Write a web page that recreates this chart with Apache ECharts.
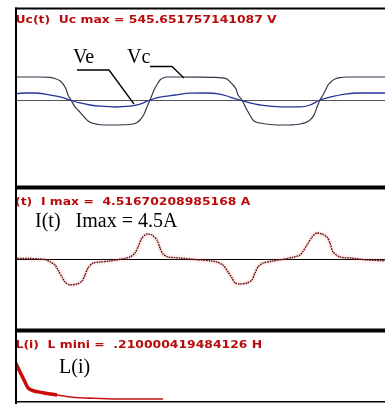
<!DOCTYPE html>
<html>
<head>
<meta charset="utf-8">
<script src="https://cdn.jsdelivr.net/npm/echarts@6/dist/echarts.min.js"></script>
<style>
  html, body { margin: 0; padding: 0; background: #fff; }
  #chart { width: 385px; height: 404px; }
</style>
</head>
<body>
<div id="chart"></div>
<script>
// Capacitor voltage Uc(t) (ms, V)
const vcTime = [0.0, 2.5, 3.5, 4.0, 4.5, 4.8, 5.1, 5.3, 5.6, 6.0, 6.3, 6.7, 7.0, 7.3, 7.7, 8.5, 9.5,
  11.0, 11.8, 12.2, 12.5, 12.8, 13.0, 13.1, 13.3, 13.5, 13.7, 14.0, 14.3, 14.5, 14.8, 15.2,
  16.5, 18.5, 20.0, 20.7, 21.2, 21.8, 22.1, 22.3, 22.7, 23.2, 23.8, 24.2, 24.5, 25.3, 26.2,
  27.5, 28.5, 29.0, 29.5, 29.9, 30.2, 30.5, 30.8, 31.1, 31.3, 31.6, 32.0, 32.5, 33.2, 37.0];
const vcVolts = [502, 502, 495, 470, 420, 350, 240, 110, 0, -150, -218, -320, -393, -460, -502, -540, -545.651757141087,
  -540, -524, -490, -437, -350, -262, -200, -100, 0, 110, 262, 370, 437, 480, 502,
  502, 500, 495, 485, 458, 327, 240, 109, 0, -218, -437, -490, -502, -530, -545.651757141087,
  -545, -524, -500, -437, -330, -153, 0, 109, 240, 327, 400, 458, 490, 502, 502];

// Supply voltage Ve(t) (ms, V)
const veTime = [0.0, 1.0, 2.0, 3.0, 4.0, 4.7, 5.5, 6.5, 7.5, 8.5, 10.0, 11.5, 12.5, 13.5, 14.5, 16.0,
  17.5, 19.0, 20.5, 21.5, 22.5, 23.5, 24.5, 26.5, 28.5, 29.5, 30.5, 31.5, 33.0, 34.5, 37.0];
const veVolts = [130, 153, 153, 130, 90, 55, 0, -65, -109, -135, -153, -135, -90, 0, 65, 109,
  150, 153, 130, 65, 0, -65, -109, -150, -150, -109, 0, 65, 130, 153, 153];

// Current I(t) (ms, A)
const iTime = [0.0, 1.5, 3.0, 3.5, 4.0, 4.3, 4.7, 5.0, 5.5, 6.2, 6.7, 7.0, 7.3, 7.8, 8.5, 9.5, 10.5,
  11.5, 12.0, 12.3, 12.7, 13.2, 13.7, 14.2, 14.5, 14.8, 15.3, 16.5, 18.5, 19.5, 20.2, 20.8,
  21.3, 21.7, 22.0, 22.5, 23.2, 23.7, 24.0, 24.3, 24.8, 25.8, 26.8, 27.8, 28.5, 29.2, 29.7,
  30.2, 30.7, 31.2, 31.5, 31.8, 32.5, 33.8, 35.2, 37.0];
const iAmps = [0.12, 0.09, -0.09, -0.47, -1.04, -1.91, -3.13, -4.0, -4.5, -4.35, -3.83, -2.78, -1.57, -0.70, -0.52, -0.35, -0.05,
  0.35, 1.04, 2.09, 3.65, 4.35, 4.17, 3.30, 1.91, 0.87, 0.35, 0.17, -0.17, -0.30, -0.52, -1.04,
  -2.26, -3.30, -4.17, -4.35, -4.17, -3.65, -2.43, -1.39, -0.70, -0.35, -0.05, 0.30, 0.70, 2.43, 3.83,
  4.51670208985168, 4.35, 3.83, 2.78, 1.22, 0.35, 0.12, -0.17, -0.30];

// Inductance L(i) (A, H): steep start and flat tail
const lHeadCurrent = [0.0, 0.15, 0.30, 0.40, 0.55, 0.85, 1.28];
const lHeadHenry = [0.787, 0.633, 0.478, 0.381, 0.339, 0.308, 0.273];
const lTailCurrent = [1.28, 1.76, 2.37, 3.10, 3.80, 4.50];
const lTailHenry = [0.273, 0.238, 0.222, 0.211, 0.2100004, 0.210000419484126];

// Values shown in the panel headers
const ucMax = 545.651757141087;
const iMax = 4.51670208985168;
const lMin = 0.210000419484126;

const zip = (xs, ys) => xs.map((x, k) => [x, ys[k]]);

const titleStyle = { fontFamily: 'DejaVu Sans', fontWeight: 'bold', fontSize: 10.5, fill: '#b80c0c', verticalAlign: 'middle' };
const noteStyle = { fontFamily: 'Liberation Serif', fontSize: 20, fill: '#000', verticalAlign: 'middle' };
const bareAxis = { axisLabel: { show: false }, axisTick: { show: false }, splitLine: { show: false } };

const chart = echarts.init(document.getElementById('chart'), null, { renderer: 'canvas' });
chart.setOption({
  animation: false,
  backgroundColor: '#fff',
  grid: [
    { left: 15, right: 0, top: 10, height: 180 },
    { left: 15, right: 0, top: 190, height: 138 },
    { left: 15, right: 0, top: 335, height: 66 }
  ],
  xAxis: [
    Object.assign({ type: 'value', gridIndex: 0, min: 0, max: 37,
      axisLine: { show: true, onZero: true, lineStyle: { color: '#555', width: 1.2 } } }, bareAxis),
    Object.assign({ type: 'value', gridIndex: 1, min: 0, max: 37,
      axisLine: { show: true, onZero: true, lineStyle: { color: '#000', width: 1 } } }, bareAxis),
    { type: 'value', gridIndex: 2, min: 0, max: 11.25, show: false }
  ],
  yAxis: [
    { type: 'value', gridIndex: 0, min: -1965, max: 1965, show: false },
    { type: 'value', gridIndex: 1, min: -12, max: 12, show: false },
    { type: 'value', gridIndex: 2, min: 0.18, max: 1.2, show: false }
  ],
  series: [
    { name: 'Vc', type: 'line', xAxisIndex: 0, yAxisIndex: 0, data: zip(vcTime, vcVolts),
      showSymbol: false, smooth: 0.25, lineStyle: { color: '#3d3349', width: 1.2 } },
    { name: 'Ve', type: 'line', xAxisIndex: 0, yAxisIndex: 0, data: zip(veTime, veVolts),
      showSymbol: false, smooth: 0.3, lineStyle: { color: '#24359a', width: 1.3 } },
    { name: 'I', type: 'line', xAxisIndex: 1, yAxisIndex: 1, data: zip(iTime, iAmps),
      showSymbol: false, smooth: 0.25,
      lineStyle: { color: '#5e0c0c', width: 1.4, type: [1.6, 0.9],
        shadowColor: 'rgba(235,110,110,0.85)', shadowBlur: 3 } },
    { name: 'L head', type: 'line', xAxisIndex: 2, yAxisIndex: 2, data: zip(lHeadCurrent, lHeadHenry),
      showSymbol: false, smooth: 0.3, lineStyle: { color: '#cc0a0a', width: 3.5 } },
    { name: 'L tail', type: 'line', xAxisIndex: 2, yAxisIndex: 2, data: zip(lTailCurrent, lTailHenry),
      showSymbol: false, smooth: 0.3, lineStyle: { color: '#c81414', width: 1.6 } }
  ],
  graphic: [
    // panel headers
    { type: 'text', x: 15.5, y: 20.5, scaleX: 1.18, z: 50,
      style: Object.assign({ text: `Uc(t)  Uc max = ${ucMax} V` }, titleStyle) },
    { type: 'text', x: 10.4, y: 202.5, scaleX: 1.18, z: 50,
      style: Object.assign({ text: `I(t)  I max =  ${iMax} A` }, titleStyle) },
    { type: 'text', x: 15.5, y: 345.5, scaleX: 1.18, z: 50,
      style: Object.assign({ text: `L(i)  L mini =  ${String(lMin).replace(/^0/, '')} H` }, titleStyle) },
    // curve annotations
    { type: 'text', x: 73, y: 58, z: 50, style: Object.assign({ text: 'Ve' }, noteStyle) },
    { type: 'text', x: 127, y: 58, z: 50, style: Object.assign({ text: 'Vc' }, noteStyle) },
    { type: 'polyline', z: 50, shape: { points: [[77, 70], [109, 70], [134, 104]] },
      style: { stroke: '#000', lineWidth: 1.3, fill: null } },
    { type: 'polyline', z: 50, shape: { points: [[150, 66.5], [172, 66.5], [184, 78]] },
      style: { stroke: '#000', lineWidth: 1.3, fill: null } },
    { type: 'text', x: 35, y: 221.5, z: 50, style: Object.assign({ text: 'I(t)   Imax = 4.5A' }, noteStyle) },
    { type: 'text', x: 59, y: 368, z: 50, style: Object.assign({ text: 'L(i)' }, noteStyle) },
    // frame
    { type: 'rect', z: 99, shape: { x: 0, y: 0, width: 15, height: 404 }, style: { fill: '#fff' } },
    { type: 'rect', z: 100, shape: { x: 15, y: 7.5, width: 370, height: 2 }, style: { fill: '#000' } },
    { type: 'rect', z: 100, shape: { x: 15, y: 7.5, width: 2, height: 396.5 }, style: { fill: '#000' } },
    { type: 'rect', z: 100, shape: { x: 15, y: 185.5, width: 370, height: 4 }, style: { fill: '#000' } },
    { type: 'rect', z: 100, shape: { x: 15, y: 328.5, width: 370, height: 4 }, style: { fill: '#000' } },
    { type: 'rect', z: 100, shape: { x: 15, y: 401, width: 370, height: 1.5 }, style: { fill: '#000' } }
  ]
});
</script>
</body>
</html>
